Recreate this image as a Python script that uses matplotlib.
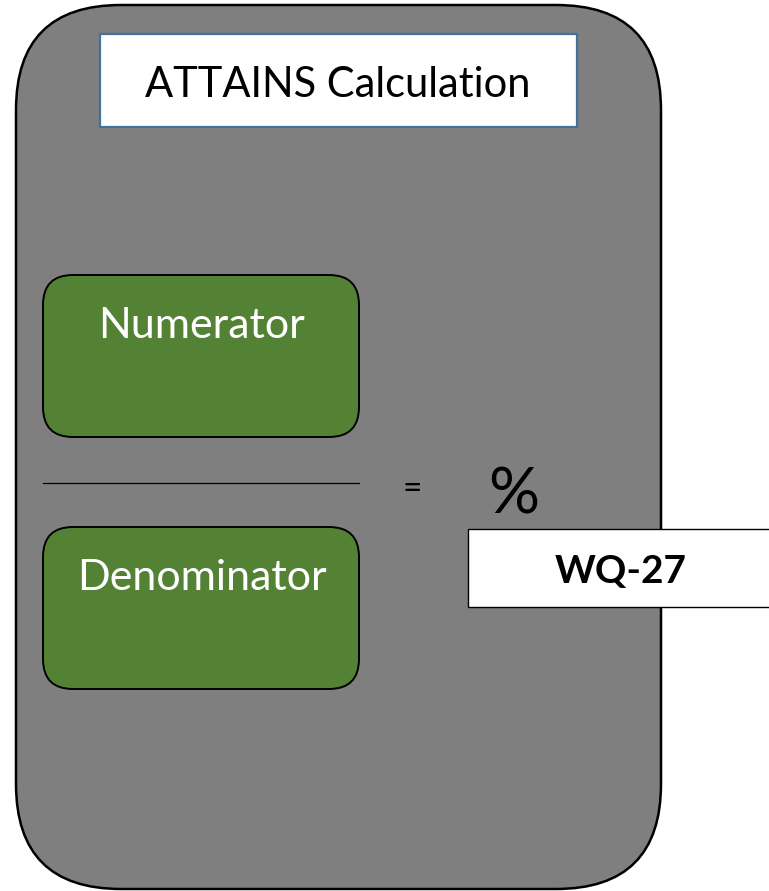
import matplotlib.pyplot as plt
from matplotlib.patches import FancyBboxPatch, Rectangle

title = "ATTAINS Calculation"
box_labels = ["Numerator", "Denominator"]
box_tops = [275, 527]
result_label = "WQ-27"
equals_sign = "="
percent_sign = "%"

gray = "#7f7f7f"
green = "#548235"
blue = "#41719c"


def main():
    fig = plt.figure(figsize=(7.69, 8.91), dpi=100)
    ax = fig.add_axes([0, 0, 1, 1])
    ax.set_xlim(0, 769)
    ax.set_ylim(891, 0)
    ax.axis("off")

    # big grey rounded panel
    ax.add_patch(FancyBboxPatch((16, 5), 645, 884,
                                boxstyle="round,pad=0,rounding_size=105",
                                fc=gray, ec="black", lw=1.8))

    # title box
    ax.add_patch(Rectangle((100, 34), 477, 93, fc="white", ec=blue, lw=1.6))
    ax.text(338, 97, title, ha="center", va="baseline",
            fontsize=30, family="Lato", color="black")

    # numerator / denominator boxes
    for top, lab in zip(box_tops, box_labels):
        ax.add_patch(FancyBboxPatch((43, top), 316, 162,
                                    boxstyle="round,pad=0,rounding_size=30",
                                    fc=green, ec="black", lw=1.4))
        ax.text(202, top + 63, lab, ha="center", va="baseline",
                fontsize=31, family="Lato", color="white")

    # fraction line
    ax.plot([43, 359], [483, 483], color="black", lw=0.9)

    ax.text(412, 489, equals_sign, ha="center", va="center",
            fontsize=24, family="Lato", color="black")
    ax.text(514, 513, percent_sign, ha="center", va="baseline",
            fontsize=46, family="Lato", color="black")

    # result box, runs off the right edge
    ax.add_patch(Rectangle((468, 529), 310, 78, fc="white", ec="black",
                           lw=1.0))
    ax.text(621, 583, result_label, ha="center", va="baseline",
            fontsize=28, family="Lato", weight="bold", color="black")

    fig.savefig("out.png", dpi=100)


if __name__ == '__main__':
    main()
